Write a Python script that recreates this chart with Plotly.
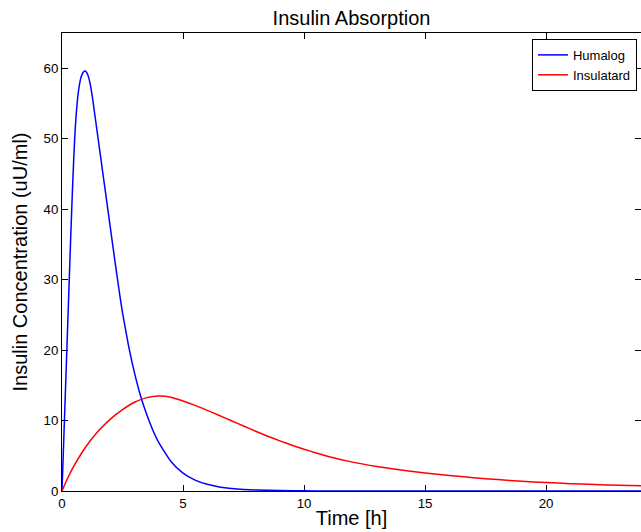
import plotly.graph_objects as go

# Humalog concentration (uU/ml) vs time (h)
hum_t = [0, 0.05, 0.1, 0.2, 0.3, 0.35, 0.4, 0.45, 0.5, 0.55, 0.6, 0.65, 0.7, 0.75,
         0.8, 0.85, 0.9, 0.95, 1.0, 1.05, 1.1, 1.15, 1.2, 1.25, 1.3, 1.4, 1.5, 1.6,
         1.8, 2.0, 2.1, 2.2, 2.3, 2.4, 2.5, 2.75, 3.0, 3.25, 3.5, 3.75, 4.0, 4.5,
         5.0, 5.5, 6.0, 6.5, 7.0, 7.5, 8.0, 9.0, 10.0, 11.0, 12.0, 14.0, 17.0,
         20.0, 24.0]
hum_c = [0, 5, 10, 20, 30, 35, 39.8, 44.3, 48.3, 51.6, 54.0, 55.9, 57.2, 58.2,
         58.85, 59.28, 59.52, 59.6, 59.5, 59.2, 58.7, 58.0, 57.1, 56.0, 54.8, 52.3,
         49.8, 47.3, 42.3, 37.3, 34.8, 32.3, 29.9, 27.5, 25.3, 20.6, 16.7, 13.45,
         10.85, 8.65, 6.85, 4.2, 2.55, 1.55, 0.95, 0.58, 0.36, 0.22, 0.14, 0.055,
         0.02, 0.008, 0.003, 0, 0, 0, 0]

# Insulatard concentration (uU/ml) vs time (h)
ins_t = [0, 0.25, 0.5, 1.0, 1.5, 2.0, 2.5, 3.0, 3.5, 4.0, 4.5, 5.0, 5.5, 6.0, 6.5,
         7.0, 7.5, 8.0, 8.5, 9.0, 9.5, 10.0, 10.5, 11.0, 12.0, 13.0, 14.0, 15.0,
         16.0, 17.0, 18.0, 19.0, 20.0, 21.0, 22.0, 23.0, 24.0]
ins_c = [0, 1.95, 3.6, 6.35, 8.5, 10.2, 11.55, 12.6, 13.25, 13.48, 13.32, 12.78,
         12.15, 11.45, 10.72, 9.97, 9.22, 8.48, 7.78, 7.12, 6.5, 5.93, 5.4, 4.9,
         4.1, 3.48, 2.98, 2.56, 2.2, 1.89, 1.62, 1.39, 1.2, 1.04, 0.92, 0.82, 0.735]

x_ticks = [0, 5, 10, 15, 20]
y_ticks = [0, 10, 20, 30, 40, 50, 60]

FONT = "Liberation Sans, Arial, Helvetica, sans-serif"

fig = go.Figure()
fig.add_trace(go.Scatter(x=hum_t, y=hum_c, mode="lines", name="Humalog",
                         line=dict(color="#0000FF", width=1.5, shape="spline", smoothing=0.5),
                         cliponaxis=False))
fig.add_trace(go.Scatter(x=ins_t, y=ins_c, mode="lines", name="Insulatard",
                         line=dict(color="#FF0000", width=1.5, shape="spline", smoothing=0.5),
                         cliponaxis=False))

axis_common = dict(showgrid=False, zeroline=False, showline=True, linecolor="black",
                   linewidth=1, ticks="inside", ticklen=6, tickwidth=1, tickcolor="black",
                   mirror="ticks", tickfont=dict(family=FONT, size=13.3, color="black"))

fig.update_layout(
    width=641, height=532,
    margin=dict(l=62, r=0, t=33, b=41),
    paper_bgcolor="white", plot_bgcolor="white",
    font=dict(family=FONT, color="black"),
    title=dict(text="Insulin Absorption", x=0.5484, xanchor="center",
               y=1 - 18 / 532, yanchor="middle", yref="container",
               font=dict(family=FONT, size=20, color="black")),
    xaxis=dict(range=[0, 23.92], tickvals=x_ticks, ticktext=[str(v) for v in x_ticks],
               title=dict(text="Time [h]", standoff=1,
                          font=dict(family=FONT, size=20, color="black")),
               layer="below traces", automargin=False, **axis_common),
    yaxis=dict(range=[0, 65], tickvals=y_ticks, ticktext=[str(v) for v in y_ticks],
               title=dict(text="Insulin Concentration (uU/ml)", standoff=10,
                          font=dict(family=FONT, size=20, color="black")),
               layer="below traces", automargin=False, **axis_common),
    legend=dict(x=0.993, xanchor="right", y=0.987, yanchor="top",
                bgcolor="white", bordercolor="black", borderwidth=1,
                font=dict(family=FONT, size=13, color="black"),
                tracegroupgap=0),
    showlegend=True,
)

fig.write_html("out.html")
